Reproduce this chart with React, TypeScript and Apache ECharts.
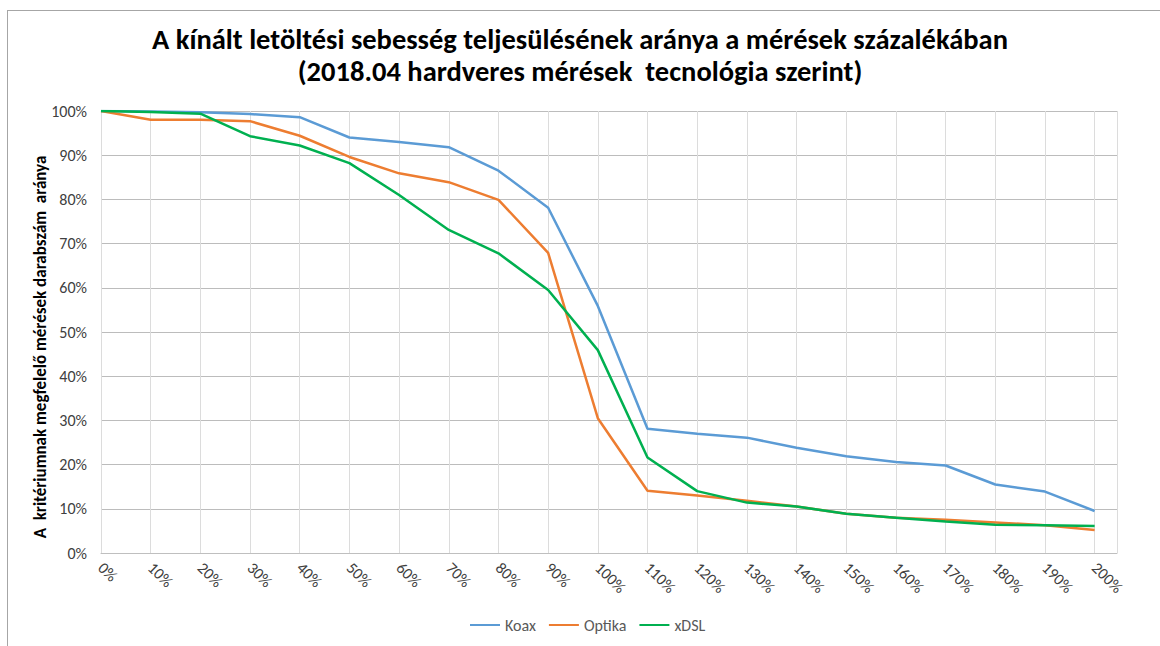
import React, { useEffect, useRef } from "react";
import * as echarts from "echarts";

const xValues = [0, 10, 20, 30, 40, 50, 60, 70, 80, 90, 100, 110, 120, 130, 140, 150, 160, 170, 180, 190, 200];
const koax = [100, 99.9, 99.7, 99.3, 98.6, 94.0, 93.0, 91.8, 86.5, 78.1, 55.9, 28.1, 27.0, 26.1, 23.8, 21.9, 20.6, 19.8, 15.5, 13.9, 9.5];
const optika = [100, 98.0, 98.0, 97.7, 94.4, 89.6, 85.9, 83.9, 79.9, 67.9, 30.5, 14.1, 13.0, 11.8, 10.5, 8.9, 8.0, 7.5, 6.9, 6.3, 5.2];
const xdsl = [100, 99.8, 99.4, 94.3, 92.2, 88.2, 81.0, 73.1, 67.8, 59.5, 45.9, 21.6, 14.0, 11.4, 10.5, 8.9, 8.0, 7.1, 6.4, 6.3, 6.1];
const seriesNames = ["Koax", "Optika", "xDSL"];
const seriesColors = ["#5B9BD5", "#ED7D31", "#00B050"];
const titleLine1 = "A kínált letöltési sebesség teljesülésének aránya a mérések százalékában";
const titleLine2 = "(2018.04 hardveres mérések  tecnológia szerint)";
const yAxisTitle = "A  kritériumnak megfelelő mérések darabszám  aránya";

const FONT = "Carlito, 'Liberation Sans Narrow', 'Open Sans', sans-serif";

export default function App() {
  const ref = useRef<HTMLDivElement>(null);
  useEffect(() => {
    document.body.style.margin = "0";
    const chart = echarts.init(ref.current!, null, { renderer: "svg" });
    const allData = [koax, optika, xdsl];
    const titleStyle = {
      fontFamily: FONT,
      fontSize: 28.5,
      fontWeight: "bold",
      color: "#000000",
      lineHeight: 30,
    };
    chart.setOption({
      animation: false,
      backgroundColor: "#ffffff",
      textStyle: { fontFamily: FONT },
      title: [
        { text: titleLine1, left: "center", top: 24, padding: 0, textStyle: titleStyle },
        { text: titleLine2, left: "center", top: 56, padding: 0, textStyle: titleStyle },
      ],
      legend: {
        bottom: 8,
        left: 465,
        itemWidth: 30,
        itemHeight: 2,
        itemGap: 13,
        icon: "rect",
        textStyle: { fontSize: 16, color: "#595959", fontFamily: FONT },
        data: seriesNames,
      },
      graphic: [
        { type: "line", shape: { x1: 7, y1: 10.5, x2: 1160, y2: 10.5 }, style: { stroke: "#a6a6a6", lineWidth: 1 } },
        { type: "line", shape: { x1: 7.5, y1: 10, x2: 7.5, y2: 646 }, style: { stroke: "#a6a6a6", lineWidth: 1 } },
        {
          type: "text",
          x: 40,
          y: 347,
          rotation: Math.PI / 2,
          style: {
            text: yAxisTitle,
            fontSize: 17,
            fontWeight: "bold",
            fill: "#000000",
            fontFamily: FONT,
            align: "center",
            verticalAlign: "middle",
          },
        },
      ],
      grid: { left: 101, right: 43, top: 111, bottom: 93 },
      xAxis: {
        type: "value",
        min: 0,
        max: 204.5,
        interval: 10,
        axisLine: { show: true, lineStyle: { color: "#bfbfbf", width: 1 } },
        axisTick: { show: false },
        splitLine: { show: true, lineStyle: { color: "#dcdcdc", width: 1 } },
        axisLabel: {
          rotate: -45,
          fontSize: 16,
          color: "#404040",
          fontFamily: FONT,
          margin: 12,
          formatter: (v: number) => (v <= 200 ? v + "%" : ""),
        },
      },
      yAxis: {
        type: "value",
        min: 0,
        max: 100,
        interval: 10,
        axisLine: { show: false },
        axisTick: { show: false },
        splitLine: { show: true, lineStyle: { color: "#bcbcbc", width: 1 } },
        axisLabel: {
          fontSize: 16,
          color: "#404040",
          fontFamily: FONT,
          margin: 14,
          formatter: (v: number) => v + "%",
        },
      },
      series: seriesNames.map((name, i) => ({
        name,
        type: "line",
        data: xValues.map((x, j) => [x, allData[i][j]]),
        showSymbol: false,
        symbol: "none",
        lineStyle: { color: seriesColors[i], width: 2.5 },
        itemStyle: { color: seriesColors[i] },
      })),
    });
    return () => chart.dispose();
  }, []);
  return <div ref={ref} style={{ width: 1160, height: 646 }} />;
}
